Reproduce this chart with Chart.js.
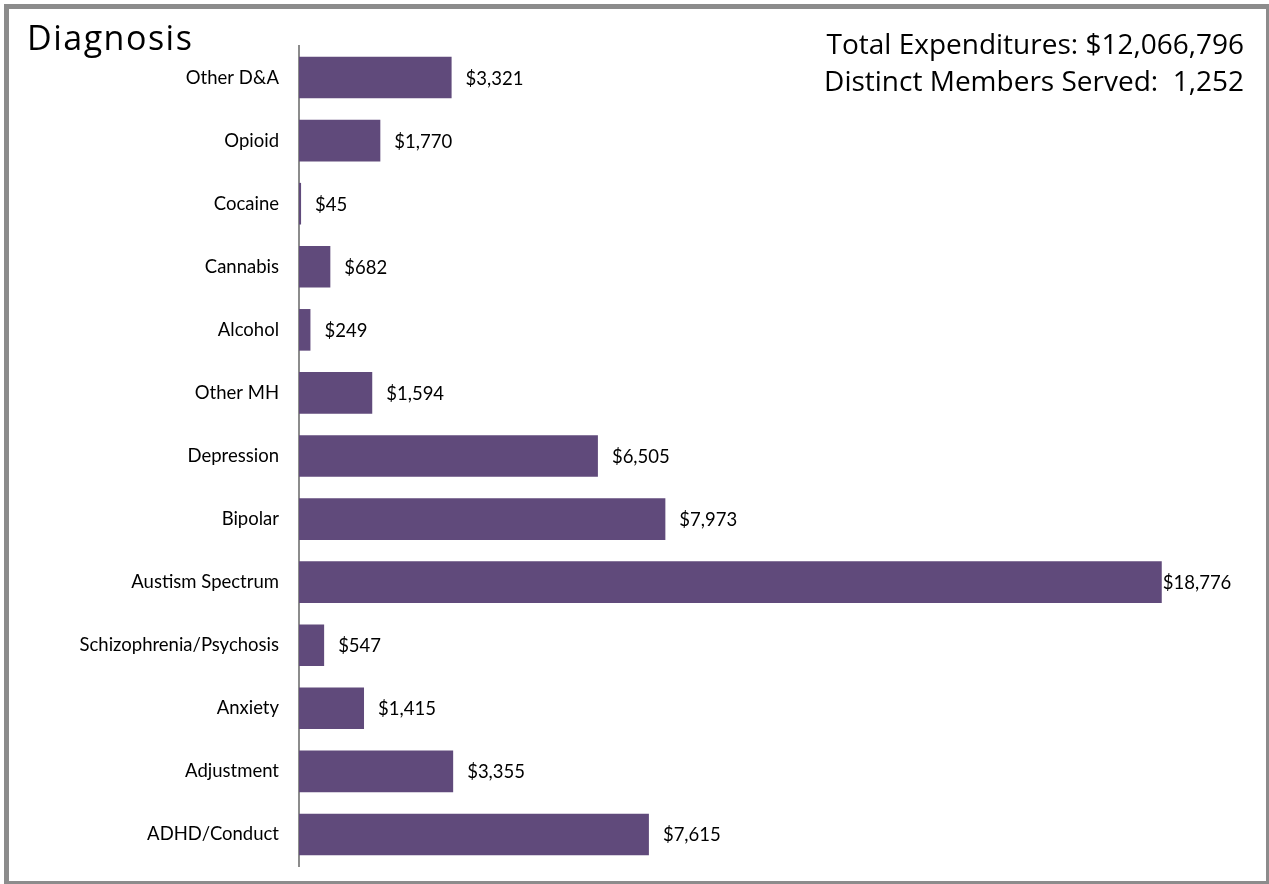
<!DOCTYPE html>
<html>
<head>
<meta charset="utf-8">
<script src="https://cdn.jsdelivr.net/npm/chart.js@4"></script>
<style>
  html, body { margin: 0; padding: 0; background: #fff; }
  #wrap { position: relative; width: 1269px; height: 884px; overflow: hidden; }
  #frame {
    position: absolute; left: 4px; top: 4px; right: 0; bottom: 0;
    border-style: solid; border-color: #8c8c8c;
    border-width: 5px 3px 3px 5px; pointer-events: none;
  }
  #title {
    position: absolute; left: 27px; top: 14px; letter-spacing: 1.5px;
    font-family: "Open Sans", sans-serif; font-size: 34px; color: #000;
  }
  #totals {
    position: absolute; right: 25px; top: 25px; text-align: right;
    font-family: "Open Sans", sans-serif; font-size: 28px; line-height: 37px; color: #000;
  }
  canvas { position: absolute; left: 0; top: 0; }
</style>
</head>
<body>
<div id="wrap">
  <canvas id="canvas" width="1269" height="884"></canvas>
  <div id="title">Diagnosis</div>
  <div id="totals">Total Expenditures: $12,066,796<br>Distinct Members Served:&nbsp; 1,252</div>
  <div id="frame"></div>
</div>
<script>
// Cost per member by diagnosis group
let diagnoses = ['Other D&A', 'Opioid', 'Cocaine', 'Cannabis', 'Alcohol', 'Other MH', 'Depression',
  'Bipolar', 'Austism Spectrum', 'Schizophrenia/Psychosis', 'Anxiety', 'Adjustment', 'ADHD/Conduct'];
let costs = [3321, 1770, 45, 682, 249, 1594, 6505, 7973, 18776, 547, 1415, 3355, 7615];

let labelFont = '18.5px Lato, "Open Sans", sans-serif';

// writes "$x,xxx" next to each bar, pulled back if it would run off the plot
let valueLabels = {
  id: 'valueLabels',
  afterDatasetsDraw(chart) {
    let ctx = chart.ctx;
    let meta = chart.getDatasetMeta(0);
    let limit = chart.chartArea.right + 15;
    ctx.save();
    ctx.font = labelFont;
    ctx.fillStyle = '#000';
    ctx.textBaseline = 'middle';
    meta.data.forEach((bar, i) => {
      let text = '$' + costs[i].toLocaleString('en-US');
      let w = ctx.measureText(text).width;
      let x = bar.x + 14;
      if (x + w > limit) x = bar.x + 1;
      ctx.fillText(text, x, bar.y + 1);
    });
    ctx.restore();
  }
};

new Chart(document.getElementById('canvas'), {
  type: 'bar',
  data: {
    labels: diagnoses,
    datasets: [{
      data: costs,
      backgroundColor: '#604a7b',
      borderWidth: 0,
      barPercentage: 0.66,
      categoryPercentage: 1
    }]
  },
  options: {
    indexAxis: 'y',
    responsive: false,
    animation: false,
    layout: { padding: { top: 46, bottom: 18, left: 0, right: 51 } },
    plugins: { legend: { display: false }, tooltip: { enabled: false } },
    scales: {
      x: { display: false, min: 0, max: 20000 },
      y: {
        // fixed label column; the tick padding shouldn't eat into the plot height
        afterFit: (scale) => {
          scale.width = 299;
          scale.paddingTop = 0;
          scale.paddingBottom = 0;
        },
        grid: { display: false, drawTicks: false },
        border: { display: true, color: '#8c8c8c', width: 2 },
        ticks: { color: '#000', padding: 20, font: { family: 'Lato, "Open Sans", sans-serif', size: 18.5 } }
      }
    }
  },
  plugins: [valueLabels]
});
</script>
</body>
</html>
